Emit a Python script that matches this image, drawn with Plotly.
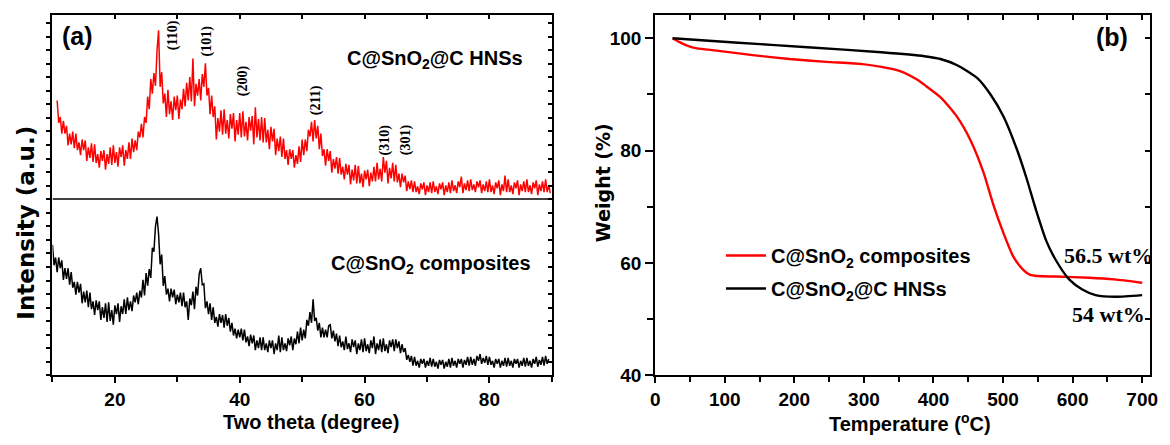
import numpy as np
import plotly.graph_objects as go

# ---------------- XRD patterns (intensity, arbitrary units) ----------------
twotheta_step = 0.25

# C@SnO2@C HNSs (upper, offset pattern), sampled from 10.75 deg
twotheta_start_hnss = 10.75
intensity_hnss = [
    282, 259, 265, 248, 261, 248, 256, 236, 248, 237, 250, 233, 248, 231, 239, 226,
    242, 231, 241, 220, 234, 223, 238, 219, 237, 218, 227, 213, 230, 220, 231, 211,
    227, 217, 234, 216, 236, 218, 229, 214, 234, 224, 236, 215, 231, 222, 239, 222,
    243, 229, 241, 231, 250, 244, 258, 244, 265, 259, 286, 273, 304, 289, 310, 297,
    333, 354, 296, 311, 279, 289, 265, 293, 268, 281, 262, 286, 272, 287, 263, 283,
    273, 294, 276, 300, 282, 306, 281, 325, 276, 299, 287, 304, 282, 309, 296, 320,
    287, 295, 268, 287, 265, 276, 242, 264, 250, 272, 247, 273, 248, 262, 243, 268,
    253, 269, 240, 262, 247, 269, 244, 271, 245, 260, 241, 265, 251, 266, 237, 275,
    244, 263, 241, 265, 239, 264, 239, 252, 232, 255, 240, 253, 226, 243, 230, 245,
    224, 243, 222, 231, 216, 232, 222, 231, 213, 226, 217, 235, 219, 242, 226, 242,
    230, 252, 245, 260, 240, 262, 243, 256, 232, 248, 225, 232, 215, 232, 220, 230,
    208, 222, 212, 224, 207, 223, 206, 214, 201, 217, 206, 216, 196, 211, 200, 216,
    197, 215, 197, 207, 193, 210, 201, 211, 194, 208, 199, 214, 199, 218, 201, 212,
    199, 224, 208, 220, 197, 213, 202, 218, 199, 216, 198, 207, 193, 207, 198, 205,
    189, 199, 191, 200, 188, 199, 188, 194, 186, 197, 191, 198, 185, 195, 188, 198,
    187, 199, 188, 194, 186, 197, 191, 198, 185, 195, 188, 198, 187, 200, 189, 195,
    187, 199, 193, 204, 187, 197, 190, 200, 189, 201, 190, 196, 188, 199, 193, 200,
    187, 196, 189, 199, 188, 201, 188, 195, 186, 198, 192, 200, 185, 196, 189, 205,
    188, 201, 188, 195, 186, 198, 192, 200, 185, 196, 189, 199, 188, 201, 188, 195,
    186, 198, 192, 200, 185, 196, 189, 199, 188, 201, 188, 195, 187,
]

# C@SnO2 composites (lower pattern), sampled from 10.0 deg
twotheta_start_comp = 10.0
intensity_comp = [
    134, 113, 121, 106, 121, 110, 118, 98, 110, 99, 110, 93, 106, 90, 96, 83,
    96, 85, 94, 74, 86, 75, 87, 70, 85, 68, 76, 62, 77, 67, 76, 57,
    70, 59, 74, 55, 75, 56, 67, 52, 72, 63, 74, 55, 71, 63, 78, 63,
    80, 67, 76, 66, 82, 75, 85, 73, 87, 80, 98, 82, 105, 92, 109, 100,
    131, 127, 153, 163, 145, 114, 124, 92, 102, 83, 89, 76, 89, 80, 88, 73,
    83, 75, 85, 71, 85, 70, 76, 57, 79, 72, 86, 68, 91, 82, 104, 110,
    93, 94, 69, 76, 63, 74, 57, 70, 54, 60, 50, 63, 54, 62, 49, 63,
    51, 59, 45, 54, 41, 48, 38, 47, 39, 48, 36, 47, 34, 40, 30, 42,
    33, 41, 26, 36, 28, 39, 26, 39, 26, 33, 24, 36, 28, 36, 22, 33,
    26, 41, 24, 39, 26, 33, 25, 38, 31, 40, 26, 38, 32, 45, 33, 49,
    36, 47, 38, 57, 51, 65, 54, 78, 56, 59, 46, 54, 39, 49, 39, 47,
    39, 51, 52, 38, 46, 35, 43, 30, 41, 29, 35, 26, 40, 27, 33, 24,
    37, 29, 36, 22, 33, 26, 37, 24, 38, 25, 32, 23, 36, 28, 40, 22,
    33, 26, 37, 24, 38, 25, 32, 23, 36, 29, 37, 25, 37, 28, 35, 23,
    32, 24, 28, 16, 21, 14, 20, 10, 19, 10, 15, 8, 17, 12, 17, 8,
    15, 10, 18, 9, 17, 9, 14, 7, 16, 11, 16, 7, 14, 9, 17, 8,
    18, 10, 15, 8, 17, 12, 17, 8, 16, 11, 19, 10, 19, 11, 17, 10,
    20, 15, 22, 12, 18, 13, 20, 11, 19, 11, 15, 8, 17, 12, 17, 8,
    15, 10, 18, 9, 18, 10, 15, 8, 17, 12, 17, 8, 15, 10, 18, 9,
    18, 10, 15, 8, 17, 12, 19, 9, 16, 11, 19, 10, 20, 12, 17,
]

# zero line separating the offset upper pattern
hnss_baseline = 181

# ---------------- TGA curves (weight %, temperature in deg C) ----------------
temp_comp = [25, 35, 46, 60, 88, 140, 193, 246, 298, 325, 351, 377, 387, 411,
             434, 453, 472, 486, 501, 515, 529, 539, 550, 576, 624, 660, 700]
weight_comp = [100, 99.3, 98.7, 98.2, 97.8, 97.0, 96.3, 95.8, 95.4, 94.9, 94.2,
               92.6, 91.7, 89.4, 86.0, 81.9, 76.1, 70.4, 65.2, 61.1, 58.8, 57.9,
               57.7, 57.6, 57.4, 57.1, 56.5]

temp_hnss = [25, 114, 219, 325, 387, 410, 434, 463, 482, 501, 520, 534, 548,
             562, 576, 595, 614, 633, 662, 700]
weight_hnss = [100, 99.25, 98.4, 97.5, 96.8, 96.3, 95.2, 92.9, 90.0, 86.0, 80.2,
               75.0, 69.2, 64.0, 60.5, 57.1, 55.3, 54.3, 54.0, 54.3]

residual_comp = 56.5
residual_hnss = 54

# ---------------------------------------------------------------------------
W, H = 1170, 445


def px(x):
    return x / W


def py(y):
    return 1 - y / H


SANS = "Liberation Sans, Arial, sans-serif"
SERIF = "Liberation Serif, Times New Roman, serif"
WIDE = "DejaVu Sans, Verdana, sans-serif"

tick_font = dict(family=SANS, size=19, color="black", weight="bold")

tt_hnss = twotheta_start_hnss + twotheta_step * np.arange(len(intensity_hnss))
tt_comp = twotheta_start_comp + twotheta_step * np.arange(len(intensity_comp))

fig = go.Figure()

fig.add_trace(go.Scatter(x=tt_hnss, y=intensity_hnss, mode="lines",
                         line=dict(color="#ff0000", width=1.5),
                         xaxis="x", yaxis="y", showlegend=False))
fig.add_trace(go.Scatter(x=tt_comp, y=intensity_comp, mode="lines",
                         line=dict(color="#000000", width=1.5),
                         xaxis="x", yaxis="y", showlegend=False))

fig.add_trace(go.Scatter(x=temp_comp, y=weight_comp, mode="lines",
                         name="C@SnO<sub>2</sub> composites",
                         line=dict(color="#ff0000", width=2.4, shape="spline", smoothing=0.6),
                         xaxis="x2", yaxis="y2", legendgroup="a"))
fig.add_trace(go.Scatter(x=temp_hnss, y=weight_hnss, mode="lines",
                         name="C@SnO<sub>2</sub>@C HNSs",
                         line=dict(color="#000000", width=2.4, shape="spline", smoothing=0.6),
                         xaxis="x2", yaxis="y2", legendgroup="b"))

# empty traces so the mirrored tick axes get their own subplots
for xa, ya in [("x3", "y"), ("x", "y3"), ("x4", "y2"), ("x2", "y4")]:
    fig.add_trace(go.Scatter(x=[], y=[], xaxis=xa, yaxis=ya, showlegend=False,
                             hoverinfo="skip"))

frame = dict(showline=True, linecolor="black", linewidth=2, mirror=True,
             showgrid=False, zeroline=False, ticks="outside",
             tickcolor="black", tickwidth=2)
inner = dict(showline=False, showgrid=False, zeroline=False, ticks="inside",
             tickcolor="black", tickwidth=2, showticklabels=False)

ydom = [py(385), py(15)]
left_dom = [px(48), px(553)]
right_dom = [px(657.5), px(1157.7)]

fig.update_layout(
    width=W, height=H,
    margin=dict(l=0, r=0, t=0, b=0),
    paper_bgcolor="white", plot_bgcolor="white",
    xaxis=dict(domain=left_dom, range=[10, 90], tick0=0, dtick=20, ticklen=6,
               minor=dict(dtick=10, ticklen=5, ticks="outside",
                          tickcolor="black", tickwidth=2),
               tickfont=tick_font, anchor="y", **frame),
    yaxis=dict(domain=ydom, range=[0, 370], tick0=0, dtick=13.9, ticklen=4,
               showticklabels=False, anchor="x", **frame),
    xaxis3=dict(overlaying="x", anchor="y", side="top", range=[10, 90],
                tick0=0, dtick=10, ticklen=4, **inner),
    yaxis3=dict(overlaying="y", anchor="x", side="right", range=[0, 370],
                tick0=0, dtick=13.9, ticklen=4, **inner),
    xaxis2=dict(domain=right_dom, range=[0, 711], tick0=0, dtick=100, ticklen=6,
                minor=dict(dtick=50, ticklen=5, ticks="outside",
                           tickcolor="black", tickwidth=2),
                tickfont=tick_font, anchor="y2", **frame),
    yaxis2=dict(domain=ydom, range=[40, 104.2], tick0=0, dtick=20, ticklen=8,
                minor=dict(dtick=10, ticklen=6, ticks="outside",
                           tickcolor="black", tickwidth=2),
                tickfont=tick_font, anchor="x2", **frame),
    xaxis4=dict(overlaying="x2", anchor="y2", side="top", range=[0, 711],
                tick0=0, dtick=50, ticklen=5, **inner),
    yaxis4=dict(overlaying="y2", anchor="x2", side="right", range=[40, 104.2],
                tick0=0, dtick=10, ticklen=5, **inner),
    legend=dict(x=px(724), y=py(242), xanchor="left", yanchor="top",
                font=dict(family=SANS, size=20, color="black", weight="bold"),
                bgcolor="rgba(0,0,0,0)", borderwidth=0, tracegroupgap=4,
                itemwidth=40),
    showlegend=True,
)

fig.add_shape(type="line", xref="x", yref="y", x0=10, x1=90,
              y0=hnss_baseline, y1=hnss_baseline,
              line=dict(color="black", width=1.5))

ann = []


def label(text, x, y, font, xanchor="center", yanchor="middle", **kw):
    ann.append(dict(text=text, x=x, y=y, xref="paper", yref="paper",
                    xanchor=xanchor, yanchor=yanchor, borderpad=0,
                    showarrow=False, font=font, **kw))


bold_sans = dict(family=SANS, size=20, color="black", weight="bold")

# panel tags
label("(a)", px(73.5), py(37), dict(family=SANS, size=25, color="black", weight="bold"))
label("(b)", px(1119), py(38), dict(family=SANS, size=25, color="black", weight="bold"))

# sample names in the XRD panel
label("C@SnO<sub>2</sub>@C HNSs", px(345), py(61), bold_sans, xanchor="left")
label("C@SnO<sub>2</sub> composites", px(329), py(271), bold_sans, xanchor="left")

# Miller indices of rutile SnO2
miller_font = dict(family=SERIF, size=14, color="black", weight="bold")
for txt, xp, yp in [("(110)", 169.3, 35.7), ("(101)", 204, 41.7), ("(200)", 240.7, 83.3),
                    ("(211)", 314, 103.3), ("(310)", 384, 143.3), ("(301)", 405, 143.3)]:
    label(txt, px(xp), py(yp), miller_font, textangle=-90)

# residual mass labels
wt_font = dict(family=SERIF, size=22, color="black", weight="bold")
label(f"{residual_comp:g} wt%", px(1116), py(262), wt_font)
label(f"{residual_hnss:g} wt%", px(1116), py(322), wt_font)

# axis titles
label("Two theta (degree)", px(309.5), py(433), dict(family=SANS, size=20, color="black", weight="bold"))
label("Temperature (<sup>o</sup>C)", px(915.5), py(433), dict(family=SANS, size=20, color="black", weight="bold"))
label("Intensity (a.u.)", px(21.5), py(228), dict(family=WIDE, size=23, color="black", weight="bold"), textangle=-90)
label("Weight (%)", px(605), py(187.5), dict(family=WIDE, size=19, color="black", weight="bold"), textangle=-90)

fig.update_layout(annotations=ann)

fig.write_html("out.html")
